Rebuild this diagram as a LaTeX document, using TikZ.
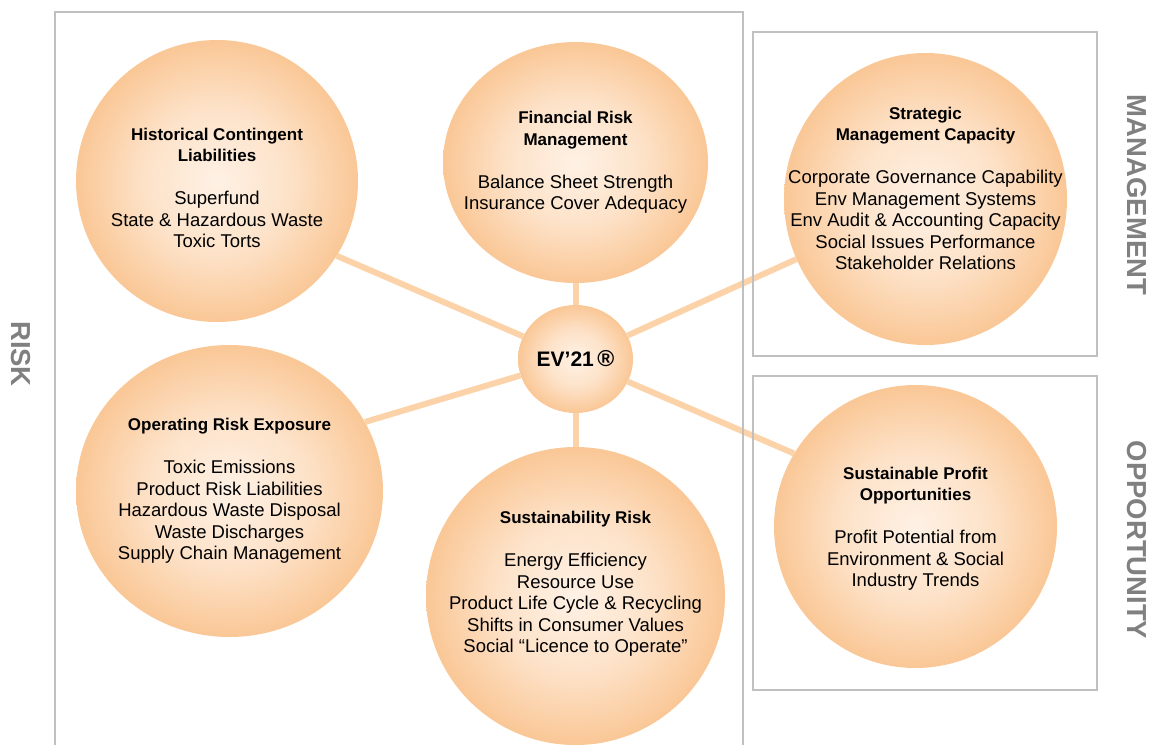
\documentclass[tikz,border=0pt]{standalone}
\usepackage{fontspec}
\setmainfont{Liberation Sans}
\usetikzlibrary{shapes.geometric}

\definecolor{bubcore}{RGB}{254,241,229}
\definecolor{bubmid}{RGB}{253,226,200}
\definecolor{bubedge}{RGB}{250,199,150}
\definecolor{spoke}{RGB}{252,210,168}
\definecolor{framegray}{RGB}{192,192,192}
\definecolor{sidegray}{RGB}{128,128,128}
\pgfdeclareradialshading{peach}{\pgfpoint{0bp}{0bp}}{color(0bp)=(bubcore); color(13bp)=(bubmid); color(25bp)=(bubedge); color(50bp)=(bubedge)}
\newcommand{\hd}[1]{{\fontsize{17}{21.5}\selectfont\bfseries #1}}

\begin{document}
\begin{tikzpicture}[x=1pt,y=-1pt,
    bubble/.style={ellipse, shading=peach, inner sep=0pt},
    blurb/.style={align=center, inner sep=0pt, font=\fontsize{18.5}{21.5}\selectfont},
    arm/.style={draw=spoke, line width=6pt},
    panel/.style={draw=framegray, line width=1.4pt},
    side/.style={rotate=-90, text=sidegray, font=\fontsize{27.5}{30}\selectfont\bfseries}]
    \useasboundingbox (0,0) rectangle (1156,745);

    \node[bubble, minimum width=282, minimum height=282] (hist) at (217,181) {};
    \node[bubble, minimum width=265, minimum height=241] (fin) at (575.5,162.5) {};
    \node[bubble, minimum width=283, minimum height=292] (strat) at (925.5,199) {};
    \node[bubble, minimum width=307, minimum height=292] (oper) at (229.5,491) {};
    \node[bubble, minimum width=299, minimum height=298] (sust) at (575.5,596) {};
    \node[bubble, minimum width=283, minimum height=283] (profit) at (915.5,526.5) {};
    \node[bubble, minimum width=115, minimum height=108,
          font=\fontsize{21}{25}\selectfont\bfseries] (hub) at (575.5,359) {EV’21\,{\fontsize{23}{25}\selectfont ®}};

    \node[blurb] (histtxt) at ([yshift=-7pt]hist.center)
        {\hd{Historical Contingent}\\\hd{Liabilities}\\[21.5pt]
         Superfund\\State \& Hazardous Waste\\Toxic Torts};
    \node[blurb] (fintxt) at (fin.center)
        {\hd{Financial Risk}\\\hd{Management}\\[21.5pt]
         Balance Sheet Strength\\Insurance Cover Adequacy};
    \node[blurb] (strattxt) at ([yshift=10.5pt]strat.center)
        {\hd{Strategic}\\\hd{Management Capacity}\\[21.5pt]
         Corporate Governance Capability\\Env Management Systems\\
         Env Audit \& Accounting Capacity\\Social Issues Performance\\
         Stakeholder Relations};
    \node[blurb] (opertxt) at (oper.center)
        {\hd{Operating Risk Exposure}\\[21.5pt]
         Toxic Emissions\\Product Risk Liabilities\\Hazardous Waste Disposal\\
         Waste Discharges\\Supply Chain Management};
    \node[blurb] (susttxt) at ([yshift=12pt]sust.center)
        {\hd{Sustainability Risk}\\[21.5pt]
         Energy Efficiency\\Resource Use\\Product Life Cycle \& Recycling\\
         Shifts in Consumer Values\\Social “Licence to Operate”};
    \node[blurb] (profittxt) at ([yshift=-2pt]profit.center)
        {\hd{Sustainable Profit}\\\hd{Opportunities}\\[21.5pt]
         Profit Potential from\\Environment \& Social\\Industry Trends};

    \draw[arm] (hub) -- (hist.-32);
    \draw[arm] (hub) -- (fin);
    \draw[arm] (hub) -- (strat.205);
    \draw[arm] (hub) -- (oper.27);
    \draw[arm] (hub) -- (sust);
    \draw[arm] (hub) -- (profit.149);

    \draw[panel] (55,745) -- (55,12) -- (743,12) -- (743,745);
    \draw[panel] (753,32) rectangle (1097,356);
    \draw[panel] (753,376) rectangle (1097,690);

    \node[side] (risk) at (21,354) {RISK};
    \node[side] (mgmt) at (1137,195) {MANAGEMENT};
    \node[side] (opp) at (1137,540) {OPPORTUNITY};
\end{tikzpicture}
\end{document}
